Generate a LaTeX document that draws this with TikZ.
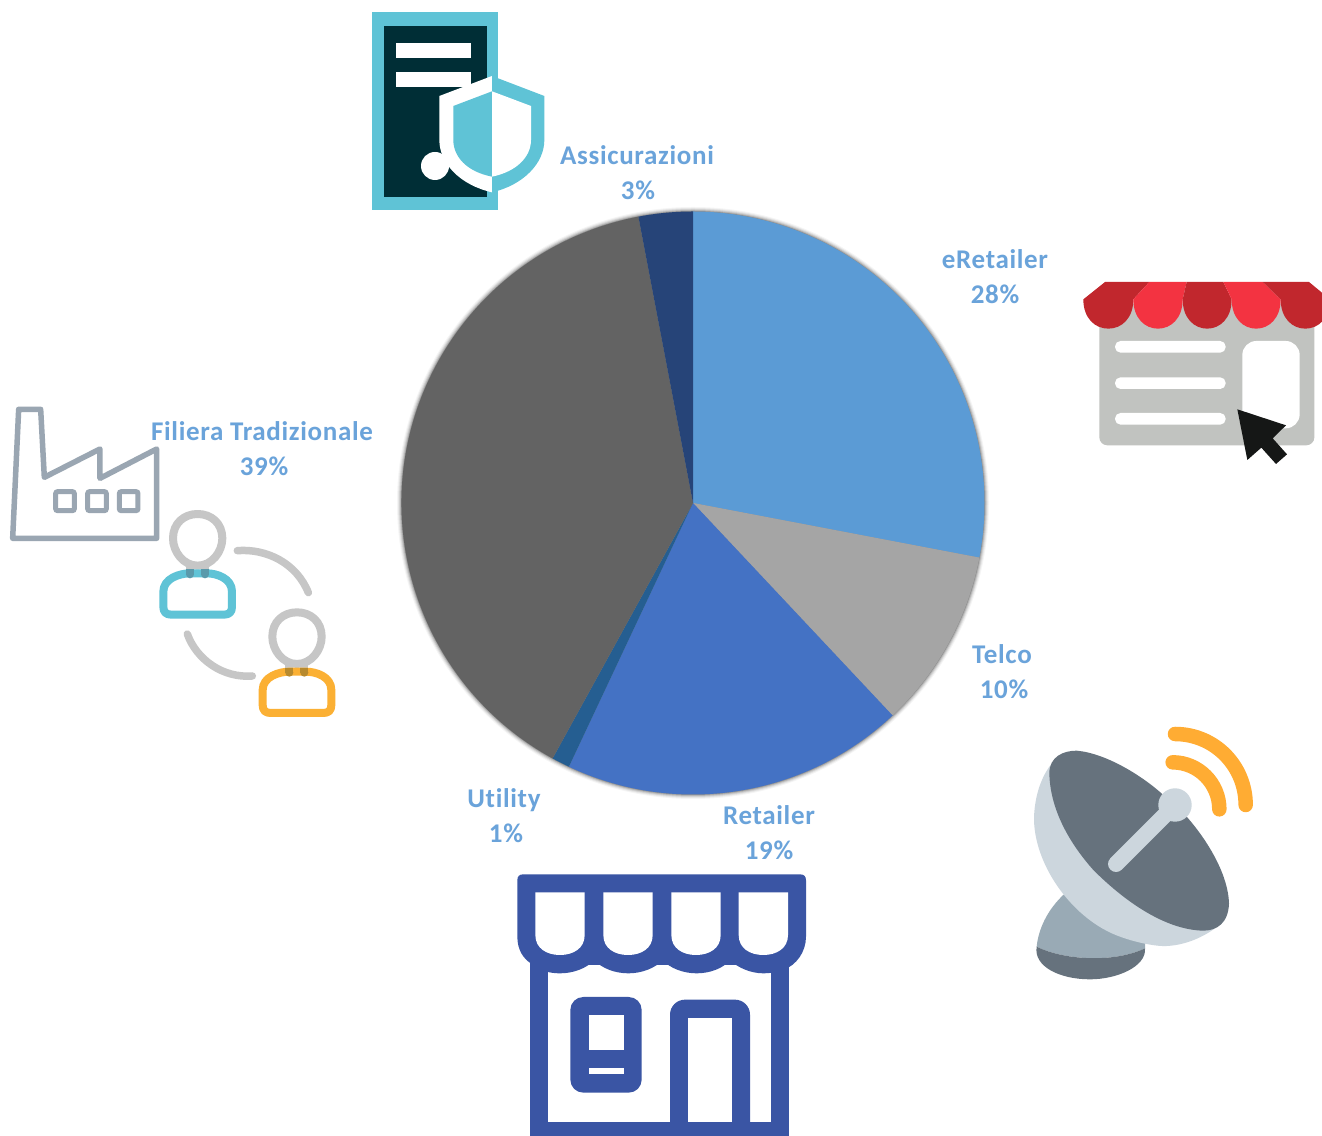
\documentclass[tikz,border=0pt]{standalone}
\usepackage{fontspec}
\setmainfont{Carlito}[Ligatures=NoCommon]
\definecolor{teal}{HTML}{5FC3D6}
\definecolor{ink}{HTML}{002E36}
\definecolor{storeblue}{HTML}{3A55A4}
\definecolor{awndark}{HTML}{C1272D}
\definecolor{awnlight}{HTML}{F33341}
\definecolor{shopgray}{HTML}{C1C3C0}
\definecolor{facgray}{HTML}{9AA6B2}
\definecolor{headgray}{HTML}{C6C6C6}
\definecolor{amber}{HTML}{FBB034}
\definecolor{dishdark}{HTML}{66727D}
\definecolor{dishlight}{HTML}{CCD6DD}
\definecolor{dishmid}{HTML}{99AAB5}
\definecolor{wave}{HTML}{FFAC33}
\definecolor{lab}{HTML}{5B9BD5}
\definecolor{labtext}{HTML}{6AA3DA}
\definecolor{sliceTelco}{HTML}{A5A5A5}
\definecolor{sliceRetail}{HTML}{4472C4}
\definecolor{sliceUtil}{HTML}{255E91}
\definecolor{sliceFil}{HTML}{636363}
\definecolor{sliceAss}{HTML}{264478}
\definecolor{tealdark}{HTML}{5A9AAB}
\definecolor{amberdark}{HTML}{B88A2E}
\definecolor{cursor}{HTML}{151716}
\tikzset{
  x=1pt,y=1pt,
  lbl/.style={text=labtext,font=\fontsize{27}{27}\selectfont\bfseries\addfontfeature{LetterSpace=2.5},inner sep=0pt,anchor=base},
  icon/.style={x=.33333pt,y=-.33333pt},
  person/.style={line width=8pt,line cap=round,line join=round,draw=headgray},
}
\newcommand{\myslice}[3]{\fill[#3] (693,632) -- ++(#1:291.5pt) arc[start angle=#1,end angle=#2,radius=291.5pt] -- cycle;}
\newcommand{\mywindow}[1]{\fill[white] (#1,82) -- ({#1+148},82) -- ({#1+148},210) .. controls ({#1+148},250) and ({#1+114},270) .. ({#1+74},270) .. controls ({#1+34},270) and (#1,250) .. (#1,210) -- cycle;}
\newcommand{\scallop}[5]{\fill[#1] (#2,88) -- #3 -- #4 -- (#5,88) .. controls (#5,145) and ({#5-35},176) .. ({(#2+#5)/2},176) .. controls ({#2+35},176) and (#2,145) .. (#2,88) -- cycle;}
\begin{document}
\begin{tikzpicture}
\useasboundingbox (0,0) rectangle (1322,1135);
\clip (0,0) rectangle (1322,1135);
\fill[white] (0,0) rectangle (1322,1135);
% soft edge of the pie
\foreach \r/\o in {296/.04,295/.06,294/.09,293/.13,292/.2}{\fill[black,opacity=\o] (693,632) circle[radius=\r pt];}
\myslice{90}{-10.8}{lab}
\myslice{-10.8}{-46.8}{sliceTelco}
\myslice{-46.8}{-115.2}{sliceRetail}
\myslice{-115.2}{-118.8}{sliceUtil}
\myslice{-118.8}{-259.2}{sliceFil}
\myslice{-259.2}{-270}{sliceAss}
% labels
\node[lbl] (l1a) at (637,970) {Assicurazioni};
\node[lbl] (l1b) at (638,935) {3\%};
\node[lbl] (l2a) at (995,866) {eRetailer};
\node[lbl] (l2b) at (995,831) {28\%};
\node[lbl] (l3a) at (1002,471) {Telco};
\node[lbl] (l3b) at (1004,436) {10\%};
\node[lbl] (l4a) at (769,310) {Retailer};
\node[lbl] (l4b) at (769,275) {19\%};
\node[lbl] (l5a) at (504,327) {Utility};
\node[lbl] (l5b) at (506,292) {1\%};
\node[lbl] (l6a) at (262,694) {Filiera Tradizionale};
\node[lbl] (l6b) at (264,659) {39\%};
% document + shield (zoom frame 360,0)
\begin{scope}[shift={(360,1135)},icon]
\fill[teal] (36,36) rectangle (414,630);
\fill[ink] (72,78) rectangle (381,590);
\fill[white] (108,129) rectangle (333,173);
\fill[white] (108,216) rectangle (333,261);
\fill[white] (396,228) -- (238,288) -- (238,420) .. controls (238,490) and (300,555) .. (396,577) -- cycle;
\fill[teal] (396,228) -- (553,288) -- (553,420) .. controls (553,490) and (490,555) .. (396,577) -- cycle;
\fill[teal] (396,274) -- (280,318) -- (280,420) .. controls (280,470) and (320,515) .. (396,530) -- cycle;
\fill[white] (396,274) -- (513,318) -- (513,420) .. controls (513,470) and (470,515) .. (396,530) -- cycle;
\fill[white] (225,498) circle[radius=14pt];
\end{scope}
% online shop (zoom frame 1070,270)
\begin{scope}[shift={(1070,865)},icon]
\fill[shopgray,rounded corners=8pt] (88,100) rectangle (733,526);
\foreach \y in {213,322,429}{\fill[white,rounded corners=5.5pt] (135,\y) rectangle (467,\y+35);}
\fill[white,rounded corners=14pt] (517,213) rectangle (689,475);
\scallop{awndark}{40}{(105,36)}{(238,36)}{190}
\scallop{awnlight}{190}{(238,36)}{(350,36)}{338}
\scallop{awndark}{338}{(350,36)}{(460,36)}{485}
\scallop{awnlight}{485}{(460,36)}{(578,36)}{632}
\scallop{awndark}{632}{(578,36)}{(717,36)}{780}
\fill[cursor] (502,418) -- (648,466) -- (608,505) -- (651,553) -- (618,582) -- (574,533) -- (532,570) -- cycle;
\end{scope}
% factory and people (zoom frame 0,400)
\begin{scope}[shift={(0,735)},icon]
\draw[facgray,line width=5.5pt,line join=round] (38,415) -- (56,28) -- (122,28) -- (133,232) -- (300,147) -- (300,235) -- (470,147) -- (470,415) -- cycle;
\foreach \x in {167,263,358}{\draw[facgray,line width=5pt,rounded corners=2pt] (\x,275) rectangle (\x+56,332);}
\foreach \dx/\dy/\c/\d in {0/0/teal/tealdark,298/295/amber/amberdark}{
  \begin{scope}[xshift=\dx*.33333pt,yshift=-\dy*.33333pt]
  \draw[person] (593,497) .. controls (550,497) and (519,455) .. (519,415) .. controls (519,370) and (552,342) .. (593,342) .. controls (634,342) and (667,370) .. (667,415) .. controls (667,455) and (636,497) .. (593,497);
  \fill[headgray] (558,490) rectangle (582,508);
  \fill[headgray] (603,490) rectangle (627,508);
  \draw[\c,line width=8pt,line join=round] (490,575) .. controls (490,535) and (540,520) .. (570,520) -- (620,520) .. controls (650,520) and (696,535) .. (696,575) -- (696,620) .. controls (696,636) and (688,644) .. (672,644) -- (514,644) .. controls (498,644) and (490,636) .. (490,620) -- cycle;
  \fill[\d] (558,508) rectangle (582,523);
  \fill[\d] (570,523) circle[radius=4pt];
  \fill[\d] (603,508) rectangle (627,523);
  \fill[\d] (615,523) circle[radius=4pt];
  \end{scope}
}
\draw[person,line width=7.5pt] (712,452) .. controls (800,445) and (890,490) .. (925,578);
\draw[person,line width=7.5pt] (562,702) .. controls (590,780) and (670,835) .. (757,828);
\end{scope}
% satellite dish (zoom frame 1020,720)
\begin{scope}[shift={(1020,415)},icon]
\fill[dishmid] (135,520) .. controls (80,570) and (55,630) .. (50,680) .. controls (130,720) and (280,730) .. (375,685) -- (375,660) -- (200,560) -- cycle;
\fill[dishdark] (50,680) .. controls (130,720) and (280,730) .. (375,685) .. controls (380,740) and (290,778) .. (210,778) .. controls (120,778) and (40,740) .. (50,680) -- cycle;
\fill[dishlight] (100,125) .. controls (60,170) and (42,240) .. (42,300) .. controls (45,440) and (160,600) .. (300,650) .. controls (360,672) and (420,680) .. (440,678) .. controls (500,675) and (550,650) .. (585,625) -- (300,400) -- cycle;
\fill[dishdark] (88,160) .. controls (88,110) and (130,92) .. (170,92) .. controls (260,100) and (370,170) .. (430,225) -- (500,290) .. controls (570,370) and (625,470) .. (627,550) .. controls (625,610) and (590,632) .. (550,632) .. controls (440,630) and (320,550) .. (220,450) .. controls (140,360) and (90,260) .. (88,160) -- cycle;
\draw[dishlight,line width=16pt,line cap=round] (288,432) -- (465,255);
\fill[dishlight] (465,255) circle[radius=16.7pt];
\draw[wave,line width=14.5pt,line cap=round] (465,42) .. controls (583,42) and (677,137) .. (677,255);
\draw[wave,line width=14.5pt,line cap=round] (458,127) .. controls (535,127) and (598,190) .. (598,268);
\end{scope}
% store (zoom frame 510,865)
\begin{scope}[shift={(510,270)},icon]
\fill[storeblue] (60,280) rectangle (838,810);
\fill[white] (114,300) rectangle (784,772);
\fill[storeblue] (60,772) rectangle (838,812);
\fill[storeblue] (40,28) -- (870,28) .. controls (882,28) and (888,34) .. (888,46) -- (888,215) .. controls (888,260) and (860,300) .. (820,315) .. controls (800,322) and (780,325) .. (760,325) .. controls (725,325) and (685,310) .. (660,285) .. controls (640,310) and (600,325) .. (560,325) .. controls (520,325) and (480,310) .. (458,285) .. controls (435,310) and (395,325) .. (355,325) .. controls (315,325) and (275,310) .. (253,285) .. controls (230,310) and (190,325) .. (150,325) .. controls (120,325) and (90,318) .. (62,295) .. controls (40,280) and (22,255) .. (22,215) -- (22,46) .. controls (22,34) and (28,28) .. (40,28) -- cycle;
\mywindow{76}\mywindow{280}\mywindow{484}\mywindow{686}
\fill[storeblue,rounded corners=13pt] (181,396) rectangle (395,683);
\fill[white] (236,451) rectangle (341,554);
\fill[white] (236,609) rectangle (341,628);
\fill[storeblue,rounded corners=15pt] (480,404) rectangle (720,900);
\fill[white] (535,459) rectangle (665,772);
\end{scope}
\end{tikzpicture}
\end{document}
